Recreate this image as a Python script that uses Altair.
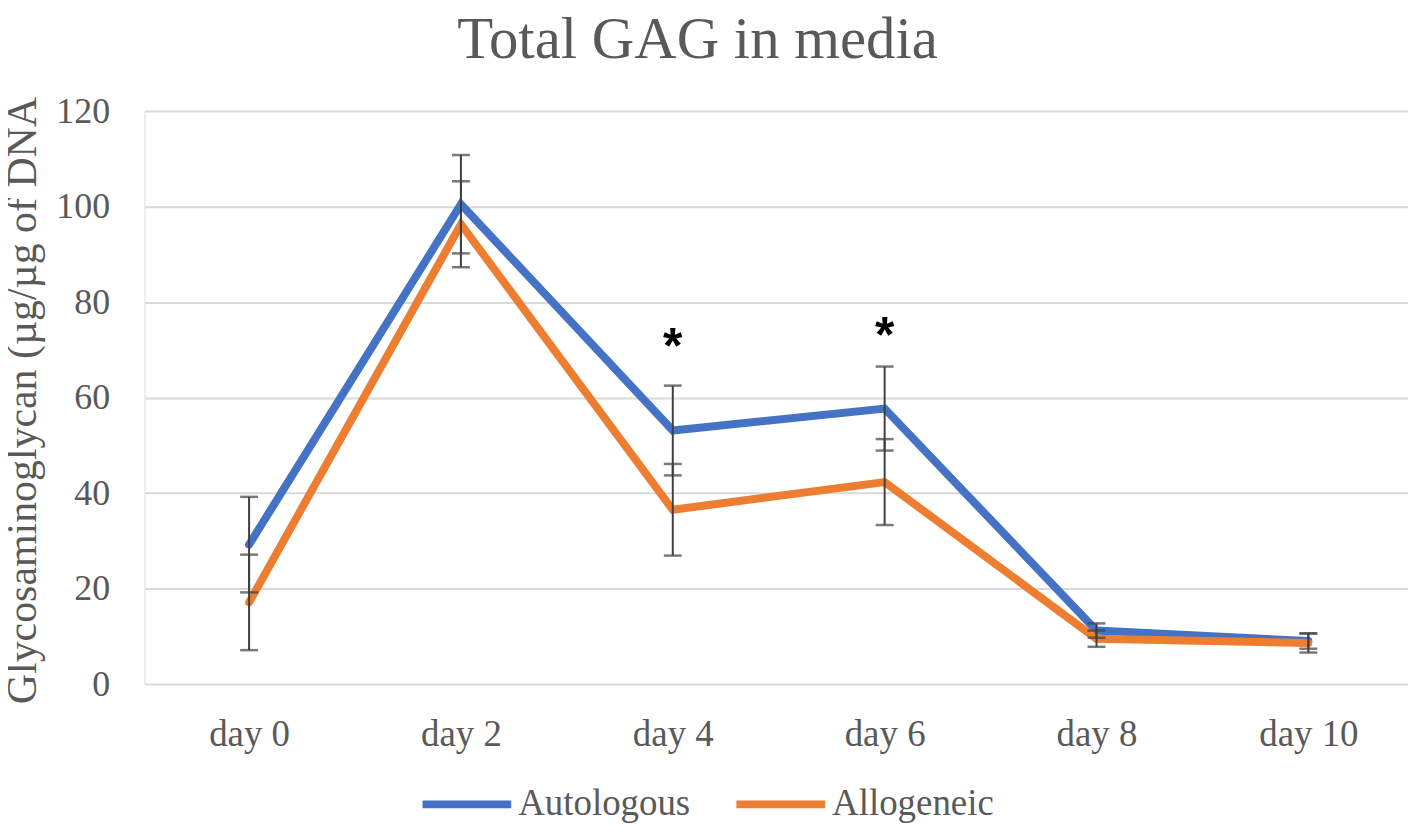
import altair as alt
import pandas as pd

days = ["day 0", "day 2", "day 4", "day 6", "day 8", "day 10"]
series_names = ["Autologous", "Allogeneic"]
autologous = [29.2, 100.5, 53.1, 57.7, 11.2, 9.0]
autologous_err = [10.0, 10.3, 9.4, 8.8, 1.5, 1.6]
allogeneic = [17.1, 96.3, 36.5, 42.3, 9.5, 8.6]
allogeneic_err = [10.0, 9.0, 9.6, 9.0, 1.7, 2.0]
star_days = ["day 4", "day 6"]
star_y = [72.4, 74.8]
colors = ["#4472C4", "#ED7D31"]

rows = []
for name, vals, errs in [("Autologous", autologous, autologous_err),
                         ("Allogeneic", allogeneic, allogeneic_err)]:
    for d, v, e in zip(days, vals, errs):
        rows.append({"day": d, "series": name, "value": v, "lo": v - e, "hi": v + e})
df = pd.DataFrame(rows)
stars = pd.DataFrame({"day": star_days, "y": star_y, "t": ["*", "*"]})

x_enc = alt.X("day:N", sort=days, title=None,
              scale=alt.Scale(type="point", padding=0.482, align=0.512),
              axis=alt.Axis(labelAngle=0, domain=False, ticks=False, grid=False,
                            labelPadding=33, labelFontSize=37,
                            labelFont="Liberation Serif", labelColor="#595959"))
y_scale = alt.Scale(domain=[0, 120], nice=False)
y_axis = alt.Axis(values=[0, 20, 40, 60, 80, 100, 120], domain=False, ticks=False,
                  grid=True, gridColor="#d9d9d9", gridWidth=2,
                  labelPadding=35, labelFontSize=36, labelFont="Liberation Serif",
                  labelColor="#595959",
                  title="Glycosaminoglycan (µg/µg of DNA", titleFontSize=42,
                  titleFont="Liberation Serif", titleColor="#595959",
                  titleFontWeight="normal", titleX=-100, titleY=290)

color_enc = alt.Color("series:N",
                      scale=alt.Scale(domain=series_names, range=colors),
                      legend=alt.Legend(title=None, orient="none", direction="horizontal",
                                        legendX=275, legendY=647,
                                        symbolType="stroke", symbolSize=7921,
                                        symbolStrokeWidth=8, labelFontSize=37,
                                        labelFont="Liberation Serif", labelColor="#595959",
                                        labelOffset=3, columnPadding=30, labelLimit=400))

base = alt.Chart(df)

line_auto = base.transform_filter(alt.datum.series == "Autologous").mark_line(
    strokeWidth=8, strokeCap="round", strokeJoin="miter").encode(
    x=x_enc, y=alt.Y("value:Q", scale=y_scale, axis=y_axis), color=color_enc)
line_allo = base.transform_filter(alt.datum.series == "Allogeneic").mark_line(
    strokeWidth=8, strokeCap="round", strokeJoin="miter").encode(
    x=x_enc, y=alt.Y("value:Q", scale=y_scale, axis=y_axis), color=color_enc)

err_rule = base.mark_rule(color="#404040", strokeWidth=2).encode(
    x=x_enc, y=alt.Y("lo:Q", scale=y_scale), y2="hi:Q")
cap_lo = base.mark_tick(color="#404040", thickness=2.5, size=18).encode(
    x=x_enc, y=alt.Y("lo:Q", scale=y_scale))
cap_hi = base.mark_tick(color="#404040", thickness=2.5, size=18).encode(
    x=x_enc, y=alt.Y("hi:Q", scale=y_scale))

star_txt = alt.Chart(stars).mark_text(font="Liberation Sans", fontWeight="bold",
                                      fontSize=50, color="#000000",
                                      baseline="middle", dy=10).encode(
    x=x_enc, y=alt.Y("y:Q", scale=y_scale), text="t:N")

chart = alt.layer(line_auto, line_allo, err_rule, cap_lo, cap_hi, star_txt).properties(
    width=1268, height=575,
    autosize=alt.AutoSizeParams(type="none"),
    padding={"left": 137, "top": 102, "right": 0, "bottom": 138},
    title=alt.TitleParams("Total GAG in media", fontSize=59, font="Liberation Serif",
                          fontWeight="normal", color="#595959", anchor="middle",
                          frame="group", offset=23, dx=-79)
).configure_view(stroke=None).configure(background="white")

chart.save("out.html", embed_options={"renderer": "svg", "actions": False})
